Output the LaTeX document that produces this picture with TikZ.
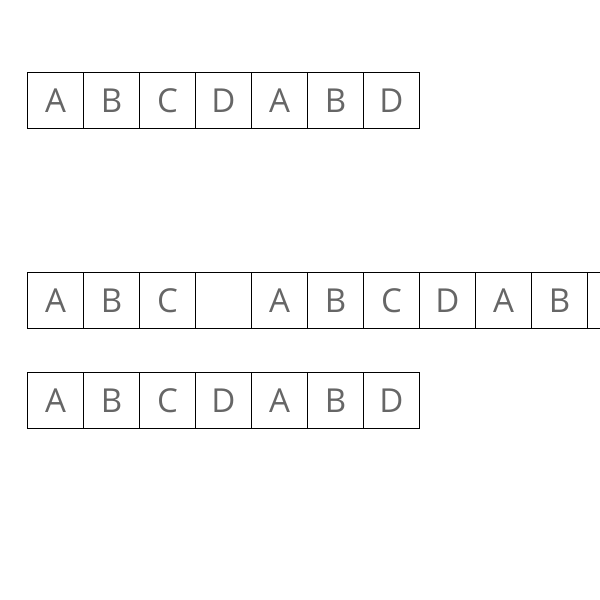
\documentclass[tikz,border=0pt]{standalone}
\usepackage{fontspec}
\setmainfont{Open Sans}
\definecolor{lettergray}{HTML}{666666}
\tikzset{
  cell/.style={draw=black, line width=0.9pt, minimum width=56pt, minimum height=56pt, inner sep=0pt, outer sep=0pt, anchor=north west, text=lettergray, font=\fontsize{33}{33}\selectfont}
}
\begin{document}
\begin{tikzpicture}[x=1pt,y=-1pt]
\useasboundingbox (0,0) rectangle (600,600);
\clip (0,0) rectangle (600,600);
% row 1
\foreach \t [count=\i from 0] in {A,B,C,D,A,B,D}
  \node[cell] (ra\i) at ({27.5+56*\i},72.5) {\t};
% row 2
\foreach \t [count=\i from 0] in {A,B,C,{},A,B,C,D,A,B,{}}
  \node[cell] (rb\i) at ({27.5+56*\i},272.5) {\t};
% row 3
\foreach \t [count=\i from 0] in {A,B,C,D,A,B,D}
  \node[cell] (rc\i) at ({27.5+56*\i},372.5) {\t};
\end{tikzpicture}
\end{document}
